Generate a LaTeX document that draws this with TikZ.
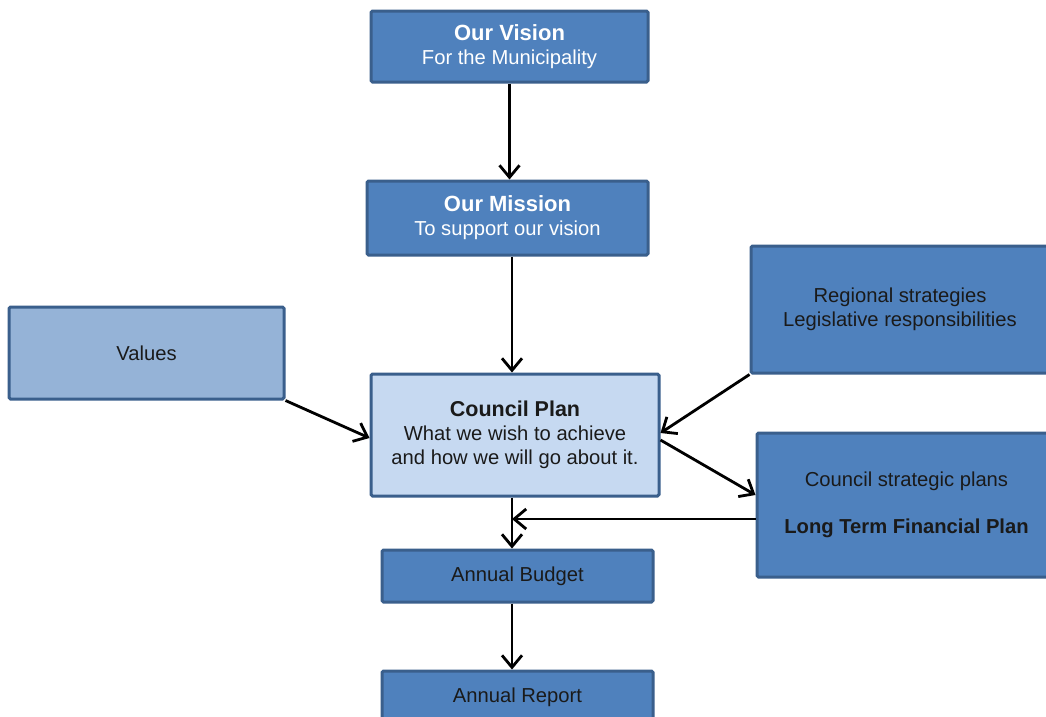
\documentclass[tikz,border=0pt]{standalone}
\usepackage{fontspec}
\setmainfont{Liberation Sans}
\usetikzlibrary{arrows.meta,calc}
\definecolor{boxblue}{HTML}{4F81BD}
\definecolor{boxedge}{HTML}{3A5F8C}
\definecolor{valblue}{HTML}{95B3D7}
\definecolor{planblue}{HTML}{C6D9F1}
\definecolor{txtdark}{HTML}{1A1A1A}
\tikzset{
  box/.style={draw=boxedge, line width=3pt, fill=boxblue, rounded corners=1.5pt,
    inner sep=0pt, align=center, text=txtdark,
    font=\fontsize{20.2}{24}\selectfont},
  whitebox/.style={box, text=white},
  arr/.style={line width=2.8pt, draw=black, -{Straight Barb[length=12pt,width=20pt,line width=2.8pt]}}
}
\begin{document}
\begin{tikzpicture}[x=1pt,y=-1pt]
\useasboundingbox (0,0) rectangle (1046,716);
\clip (0,0) rectangle (1046,716);
\fill[white] (0,0) rectangle (1046,716);
\node[whitebox, minimum width=277pt, minimum height=71pt] (vis) at (509.5,46.5)
  {{\bfseries\fontsize{22}{25}\selectfont Our Vision}\\For the Municipality};
\node[whitebox, minimum width=281pt, minimum height=74pt] (mis) at (507.5,218)
  {{\bfseries\fontsize{22}{25}\selectfont Our Mission}\\To support our vision};
\node[box, fill=valblue, minimum width=275pt, minimum height=92pt] (val) at (146.5,353) {Values};
\node[box, minimum width=298pt, minimum height=127pt] (reg) at (900,309.5)
  {Regional strategies\\Legislative responsibilities};
\node[box, fill=planblue, minimum width=288pt, minimum height=122pt] (cp) at (515,435)
  {{\bfseries\fontsize{21.5}{24}\selectfont Council Plan}\\What we wish to achieve\\and how we will go about it.};
\node[box, minimum width=299pt, minimum height=144pt] (str) at (906.5,505)
  {Council strategic plans\\[23pt]{\bfseries Long Term Financial Plan}};
\node[box, minimum width=271pt, minimum height=52pt] (bud) at (517.5,576) {Annual Budget};
\node[box, minimum width=271pt, minimum height=52pt] (rep) at (517.5,697) {Annual Report};
\coordinate (spine) at ([xshift=-3pt]cp.south);
\draw[arr] (vis.south) -- (vis.south |- mis.north);
\draw[arr] ([xshift=4.5pt]mis.south) -- ([xshift=4.5pt]mis.south |- cp.north);
\draw[arr] (val.south east) -- ([yshift=-3pt]cp.west);
\draw[arr] (reg.south west) -- ([yshift=2pt]cp.east);
\draw[arr] ([yshift=-5pt]cp.east) -- ([yshift=10pt]str.west);
\draw[arr] (spine) -- (spine |- bud.north);
\draw[arr] ([yshift=-14pt]str.west) -- ([yshift=-14pt]str.west -| spine);
\draw[arr] ([xshift=-5.5pt]bud.south) -- ([xshift=-5.5pt]bud.south |- rep.north);
\end{tikzpicture}
\end{document}
